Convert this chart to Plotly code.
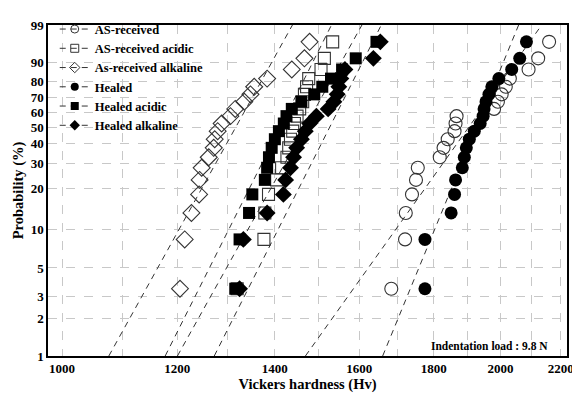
import numpy as np
import plotly.graph_objects as go

# ---------------- data ----------------
series_names = ["AS-received", "AS-received acidic", "As-received alkaline",
                "Healed", "Healed acidic", "Healed alkaline"]

# 20 sorted Vickers hardness values per series (Hv)
hv_as_received = [1683, 1720, 1722, 1739, 1750, 1755, 1817, 1828, 1840, 1860,
                  1863, 1866, 1980, 1992, 2004, 2017, 2030, 2091, 2123, 2160]
hv_as_received_acidic = [1319, 1376, 1378, 1386, 1404, 1415, 1427, 1431, 1435, 1440,
                         1444, 1450, 1456, 1463, 1467, 1472, 1477, 1506, 1514, 1534]
hv_as_received_alkaline = [1205, 1214, 1227, 1242, 1243, 1247, 1261, 1271, 1273, 1279,
                           1287, 1305, 1315, 1334, 1347, 1355, 1383, 1438, 1467, 1479]
hv_healed = [1775, 1775, 1850, 1860, 1863, 1883, 1889, 1895, 1904, 1919,
             1937, 1946, 1949, 1955, 1964, 1973, 1995, 2036, 2062, 2084]
hv_healed_acidic = [1315, 1324, 1344, 1351, 1378, 1383, 1387, 1393, 1400, 1409,
                    1420, 1426, 1438, 1460, 1490, 1509, 1530, 1557, 1591, 1644]
hv_healed_alkaline = [1324, 1332, 1383, 1419, 1424, 1435, 1442, 1449, 1460, 1469,
                      1479, 1495, 1523, 1537, 1545, 1549, 1554, 1564, 1636, 1654]

# Weibull fit parameters (modulus m, characteristic hardness x0) per series
weibull_modulus = [16.4, 23.3, 21.1, 28.5, 21.0, 23.2]
weibull_scale = [1945, 1434, 1339, 1951, 1494, 1551]

y_tick_values = [1, 2, 3, 5, 10, 20, 30, 40, 50, 60, 70, 80, 90, 99]
x_tick_values = [1000, 1100, 1200, 1300, 1400, 1500, 1600, 1700, 1800, 1900, 2000, 2100, 2200]
x_tick_labels = ["1000", "", "1200", "", "1400", "", "1600", "", "1800", "", "2000", "", "2200"]

# ---------------- styling ----------------
all_hv = [hv_as_received, hv_as_received_acidic, hv_as_received_alkaline,
          hv_healed, hv_healed_acidic, hv_healed_alkaline]
symbols = ["circle-open", "square-open", "diamond-open", "circle", "square", "diamond"]
sizes = [13, 12, 13, 13, 12, 13]
FONT = "Liberation Serif, Times New Roman, serif"


def wb(p_percent):
    p = np.asarray(p_percent, dtype=float) / 100.0
    return np.log(-np.log(1.0 - p))


fig = go.Figure()

# fitted dashed lines
p_line = np.array([1.0, 99.0])
for m, x0 in zip(weibull_modulus, weibull_scale):
    xl = x0 * (-np.log(1 - p_line / 100)) ** (1.0 / m)
    fig.add_trace(go.Scatter(x=xl, y=wb(p_line), mode="lines",
                             line=dict(color="#333333", width=1, dash="6px,5px"),
                             showlegend=False, hoverinfo="skip"))

# data points (median rank)
for name, hv, sym, sz in zip(series_names, all_hv, symbols, sizes):
    n = len(hv)
    ranks = np.arange(1, n + 1)
    prob = (ranks - 0.3) / (n + 0.4) * 100
    if sym.endswith("open"):
        marker = dict(symbol=sym, size=sz, color="#333333", line=dict(width=1.1, color="#333333"))
    else:
        marker = dict(symbol=sym, size=sz, color="black", line=dict(width=0))
    fig.add_trace(go.Scatter(x=sorted(hv), y=wb(prob), mode="markers", marker=marker,
                             showlegend=False, name=name))

# legend entries
for name, sym in zip(series_names, symbols):
    if sym.endswith("open"):
        marker = dict(symbol=sym, size=8, color="#333333", line=dict(width=1, color="#333333"))
    else:
        marker = dict(symbol=sym, size=8, color="black")
    fig.add_trace(go.Scatter(x=[None], y=[None], mode="lines+markers", name=name,
                             marker=marker,
                             line=dict(color="#333333", width=1, dash="6px,5px")))

# page has an 8px body margin: figure is sized/offset to compensate
fig.update_layout(
    width=572, height=388,
    margin=dict(l=40, r=6, t=7, b=39),
    paper_bgcolor="white", plot_bgcolor="white",
    font=dict(family=FONT, size=12, color="black"),
    legend=dict(x=0.013, y=1.032, xanchor="left", yanchor="top",
                bgcolor="rgba(0,0,0,0)", tracegroupgap=0,
                font=dict(family=FONT, size=12.5, color="black", weight="bold"),
                itemwidth=30),
    annotations=[dict(text="<b>Indentation load : 9.8 N</b>", xref="paper", yref="paper",
                      x=0.968, y=0.03, xanchor="right", yanchor="middle", showarrow=False,
                      font=dict(family=FONT, size=11.5, color="black"))],
)

gridstyle = dict(showgrid=True, gridcolor="#c8c8c8", griddash="dash", gridwidth=1)
fig.update_xaxes(type="log", range=[np.log10(978), np.log10(2222)],
                 tickmode="array", tickvals=x_tick_values, ticktext=x_tick_labels,
                 showline=True, linecolor="black", linewidth=1.5, mirror=True,
                 ticks="", zeroline=False,
                 tickfont=dict(family=FONT, size=13, color="black", weight="bold"),
                 title=dict(text="<b>Vickers hardness (Hv)</b>", standoff=4,
                            font=dict(family=FONT, size=14.5, color="black")),
                 **gridstyle)
fig.update_yaxes(range=[float(wb(1)), float(wb(99))],
                 tickmode="array", tickvals=list(wb(y_tick_values)),
                 ticktext=[str(v) for v in y_tick_values],
                 showline=True, linecolor="black", linewidth=1.5, mirror=True,
                 ticks="", zeroline=False,
                 tickfont=dict(family=FONT, size=13, color="black", weight="bold"),
                 title=dict(text="<b>Probability (%)</b>", standoff=4,
                            font=dict(family=FONT, size=14.5, color="black")),
                 **gridstyle)

fig.write_html("out.html")
